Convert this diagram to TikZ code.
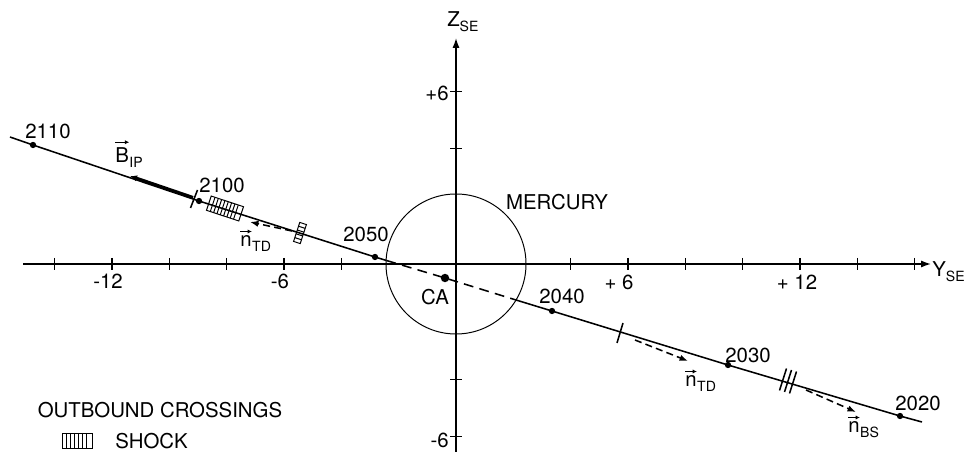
\documentclass[tikz,border=0pt]{standalone}
\usepackage{fontspec}
\setmainfont{TeX Gyre Heros}
\usetikzlibrary{arrows.meta}
\newcommand\lbsub[1]{\raisebox{-0.4ex}{\fontsize{10}{11}\selectfont #1}}
\begin{document}
\begin{tikzpicture}[x=0.025cm,y=-0.025cm,
  font=\fontsize{14.5}{17}\selectfont,
  traj/.style={line width=1.1pt},
  axisline/.style={line width=1pt},
  tickmark/.style={line width=0.9pt},
  dot/.style={circle,fill,inner sep=0pt,minimum size=4.5pt},
  camark/.style={circle,fill,inner sep=0pt,minimum size=6pt},
  lbl/.style={inner sep=0pt},
  hatch/.style={line width=0.7pt},
  vecarrow/.style={line width=0.8pt,-{Latex[length=3pt,width=3pt]}},
  ndash/.style={line width=1.1pt,dash pattern=on 5pt off 3pt,-{Latex[length=6pt,width=4.5pt]}},
  shadow/.style={line width=1.1pt,dash pattern=on 7pt off 4.5pt},
  tip/.style={-{Latex[length=7pt,width=5pt]}}]
\useasboundingbox (0,0) rectangle (969,452);

% axes
\coordinate (xl) at (23,264);
\coordinate (xr) at (931,264);
\coordinate (zb) at (456,452);
\coordinate (zt) at (456,38);
\coordinate (O) at (456,264);
\draw[axisline,tip] (xl) -- (xr);
\draw[axisline,tip] (zb) -- (zt);
\foreach \k in {-14,-12,...,-4} \draw[tickmark] ({456+28.67*\k},258) -- ({456+28.67*\k},270);
\foreach \k in {4,6,...,16} \draw[tickmark] ({456+28.67*\k},258) -- ({456+28.67*\k},270);
\foreach \k in {6,4,-4,-6} \draw[tickmark] (450,{264-28.8*\k}) -- (462,{264-28.8*\k});

\node[lbl,anchor=base west] (zlab) at (447,27) {Z\lbsub{SE}};
\node[lbl,anchor=base west] (ylab) at (932,277) {Y\lbsub{SE}};
\node[lbl] (hm12) at (108,281) {-12};
\node[lbl] (hm6) at (280,281) {-6};
\node[lbl] (hp6) at (619,282) {+ 6};
\node[lbl] (hp12) at (797,282) {+ 12};
\node[lbl,anchor=east] (vp6) at (449,93) {+6};
\node[lbl,anchor=east] (vm6) at (449,440) {-6};

% Mercury
\draw[line width=0.7pt] (O) circle[radius=1.75cm];
\node[lbl] (merc) at (557,202) {MERCURY};

% trajectory points
\coordinate (S) at (10,137);
\node[dot] (d2110) at (33,145) {};
\node[dot] (d2100) at (199,201) {};
\node[dot] (d2050) at (375,257) {};
\coordinate (cin) at (386.5,260.5);
\node[camark] (ca) at (445,278) {};
\coordinate (cout) at (516,300);
\node[dot] (d2040) at (552,311) {};
\node[dot] (d2030) at (728,365) {};
\node[dot] (d2020) at (900,416) {};
\coordinate (E) at (922,422);

\draw[traj] (S) -- (d2110.center) -- (d2100.center) -- (d2050.center) -- (cin);
\draw[shadow] (cin) -- (ca.center) -- (cout);
\draw[traj] (cout) -- (d2040.center) -- (d2030.center) -- (d2020.center) -- (E);

\node[lbl] (l2110) at (48,131) {2110};
\node[lbl] (l2100) at (222,185) {2100};
\node[lbl] (l2050) at (366,234) {2050};
\node[lbl] (lca) at (435,297) {CA};
\node[lbl] (l2040) at (562,296) {2040};
\node[lbl] (l2030) at (748,355) {2030};
\node[lbl] (l2020) at (918,403) {2020};

% B_IP
\coordinate (bipS) at (193,197.5);
\coordinate (bipE) at (130,176);
\draw[line width=2.2pt,-{Latex[length=5pt,width=4.5pt]}] (bipS) -- (bipE);
\node[lbl,anchor=base west] (bipB) at (115,163) {B};
\node[lbl,anchor=base west] (bipsub) at (bipB.base east) {\lbsub{IP}};
\draw[vecarrow] ([yshift=4pt]bipB.north west) -- ([yshift=4pt]bipB.north east);

% crossing marks
\coordinate (xL) at (194,199);
\draw[traj] ([shift={(-3.5,9)}]xL) -- ([shift={(3.5,-9)}]xL);
\coordinate (xR) at (620,333);
\draw[traj] ([shift={(-3,10)}]xR) -- ([shift={(3,-10)}]xR);
\coordinate (xS) at (788,381);
\foreach \d in {-5,0,5}
  \draw[traj] ([shift={(\d-3.5,\d*0.3+11)}]xS) -- ([shift={(\d+3.5,\d*0.3-11)}]xS);

% shock box near 2100
\begin{scope}[shift={(225,208.5)},rotate=-18.3]
  \draw[hatch] (-17,-7.5) rectangle (17,7.5);
  \foreach \i in {-13,-9.5,...,14} \draw[hatch] (\i,-7.5) -- (\i,7.5);
\end{scope}
% small box
\begin{scope}[shift={(300,233)},rotate=-18]
  \draw[hatch] (-3.5,-10) rectangle (3.5,10);
  \foreach \j in {-6,-2,2,6} \draw[hatch] (-3.5,\j) -- (3.5,\j);
\end{scope}

% normals
\coordinate (ntdLs) at (292,231);
\coordinate (ntdLe) at (250,222);
\draw[ndash] (ntdLs) -- (ntdLe);
\node[lbl,anchor=base west] (ntdLn) at (240,247) {n};
\node[lbl,anchor=base west] (ntdLsub) at (ntdLn.base east) {\lbsub{TD}};
\draw[vecarrow] ([yshift=3pt]ntdLn.north west) -- ([yshift=3pt]ntdLn.north east);

\coordinate (ntdRs) at (635,340);
\coordinate (ntdRe) at (688,361);
\draw[ndash] (ntdRs) -- (ntdRe);
\node[lbl,anchor=base west] (ntdRn) at (685,387) {n};
\node[lbl,anchor=base west] (ntdRsub) at (ntdRn.base east) {\lbsub{TD}};
\draw[vecarrow] ([yshift=3pt]ntdRn.north west) -- ([yshift=3pt]ntdRn.north east);

\coordinate (nbss) at (806,390);
\coordinate (nbse) at (856,412);
\draw[ndash] (nbss) -- (nbse);
\node[lbl,anchor=base west] (nbsn) at (848,433) {n};
\node[lbl,anchor=base west] (nbssub) at (nbsn.base east) {\lbsub{BS}};
\draw[vecarrow] ([yshift=3pt]nbsn.north west) -- ([yshift=3pt]nbsn.north east);

% legend
\node[lbl] (leg) at (160,410) {OUTBOUND CROSSINGS};
\draw[hatch] (62,433) rectangle (92,448);
\foreach \i in {66,70,...,88} \draw[hatch] (\i,433) -- (\i,448);
\node[lbl,anchor=west] (legshock) at (115,441) {SHOCK};
\end{tikzpicture}
\end{document}
